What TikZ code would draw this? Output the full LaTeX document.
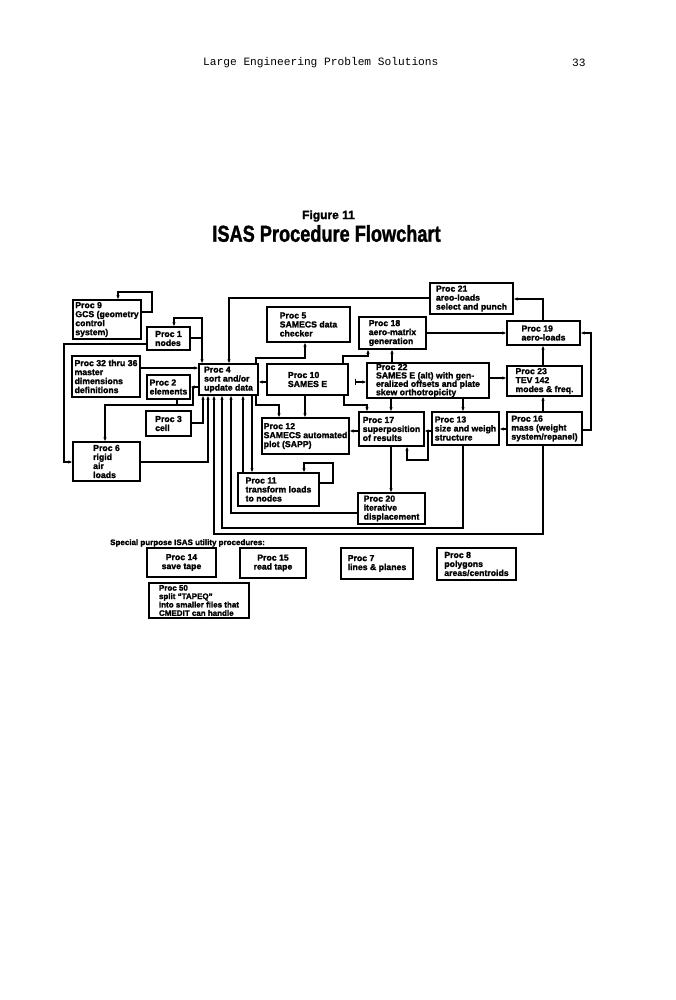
\documentclass[tikz,border=0pt]{standalone}
\usepackage{fontspec}
\setmainfont{Liberation Sans}[BoldFeatures={FakeBold=1.6}]
\newfontfamily\monofam{Liberation Mono}
\usetikzlibrary{arrows.meta}
\begin{document}
\begin{tikzpicture}[x=1pt,y=-1pt,
  bx/.style={draw, line width=1.3pt, inner sep=1.5pt, font=\bfseries\fontsize{8.7}{9}\selectfont, align=left},
  arr/.style={line width=1.1pt, -{Latex[length=4pt,width=3.5pt]}},
  ln/.style={line width=1.1pt}]
\useasboundingbox (0,0) rectangle (675,1000);
\fill[white] (0,0) rectangle (675,1000);

% header and title
\node[anchor=west, font=\monofam\fontsize{11.2}{12}\selectfont, inner sep=0] (hdr) at (203,63) {Large Engineering Problem Solutions};
\node[anchor=west, font=\monofam\fontsize{11.2}{12}\selectfont, inner sep=0] (pg) at (572,63) {33};
\node[font=\bfseries\fontsize{12}{12}\selectfont, inner sep=0] (fig) at (328.5,216) {Figure 11};
\node[inner sep=0] (ttl) at (326.5,233.5) {\scalebox{0.79}[1]{\bfseries\fontsize{23}{23}\selectfont ISAS Procedure Flowchart}};

% boxes
\node[bx, minimum width=68pt, minimum height=39pt] (p9) at (107,319.5) {Proc 9\\GCS (geometry\\control\\system)};
\node[bx, minimum width=43pt, minimum height=23pt] (p1) at (168.5,338.5) {Proc 1\\nodes};
\node[bx, minimum width=68pt, minimum height=41pt] (p32) at (106,376.5) {Proc 32 thru 36\\master\\dimensions\\definitions};
\node[bx, minimum width=43pt, minimum height=24pt] (p2) at (168.5,387) {Proc 2\\elements};
\node[bx, minimum width=45pt, minimum height=25pt] (p3) at (168.5,423.5) {Proc 3\\cell};
\node[bx, minimum width=67pt, minimum height=39pt] (p6) at (106.5,461.5) {Proc 6\\rigid\\air\\loads};
\node[bx, minimum width=59pt, minimum height=31pt] (p4) at (228.5,379.5) {Proc 4\\sort and/or\\update data};
\node[bx, minimum width=83pt, minimum height=35pt] (p5) at (308.5,324.5) {Proc 5\\SAMECS data\\checker};
\node[bx, minimum width=81pt, minimum height=31pt] (p10) at (307.5,379.5) {Proc 10\\SAMES E};
\node[bx, minimum width=87pt, minimum height=36pt, inner sep=1pt] (p12) at (305.5,436) {Proc 12\\SAMECS automated\\plot (SAPP)};
\node[bx, minimum width=81pt, minimum height=33pt] (p11) at (278.5,489.5) {Proc 11\\transform loads\\to nodes};
\node[bx, minimum width=67pt, minimum height=32pt] (p18) at (392.5,333) {Proc 18\\aero-matrix\\generation};
\node[bx, minimum width=122pt, minimum height=35pt, inner sep=1pt, font=\bfseries\fontsize{8.7}{8.4}\selectfont] (p22) at (428,380.5) {Proc 22\\SAMES E (alt) with gen-\\eralized offsets and plate\\skew orthotropicity};
\node[bx, minimum width=65pt, minimum height=34pt] (p17) at (391.5,429) {Proc 17\\superposition\\of results};
\node[bx, minimum width=67pt, minimum height=33pt] (p13) at (465.5,428.5) {Proc 13\\size and weigh\\structure};
\node[bx, minimum width=67pt, minimum height=31pt] (p20) at (391.5,508.5) {Proc 20\\iterative\\displacement};
\node[bx, minimum width=83pt, minimum height=31pt] (p21) at (471.5,298.5) {Proc 21\\areo-loads\\select and punch};
\node[bx, minimum width=73pt, minimum height=24pt] (p19) at (543.5,333) {Proc 19\\aero-loads};
\node[bx, minimum width=75pt, minimum height=30pt] (p23) at (544.5,381) {Proc 23\\TEV 142\\modes \& freq.};
\node[bx, minimum width=75pt, minimum height=33pt] (p16) at (544.5,428.5) {Proc 16\\mass (weight\\system/repanel)};

% utility procedures
\node[anchor=west, inner sep=0, font=\bfseries\fontsize{8}{9}\selectfont] (sp) at (110,543) {Special purpose ISAS utility procedures:};
\node[bx, align=center, minimum width=69pt, minimum height=29pt] (p14) at (181.5,562.5) {Proc 14\\save tape};
\node[bx, align=center, minimum width=66pt, minimum height=30pt] (p15) at (273,563) {Proc 15\\read tape};
\node[bx, minimum width=72pt, minimum height=31pt] (p7) at (377,563.5) {Proc 7\\lines \& planes};
\node[bx, minimum width=79pt, minimum height=32pt] (p8) at (476.5,564) {Proc 8\\polygons\\areas/centroids};
\node[bx, minimum width=100pt, minimum height=35pt, font=\bfseries\fontsize{8}{8.4}\selectfont] (p50) at (199,600.5) {Proc 50\\split ``TAPEQ''\\into smaller files that\\CMEDIT can handle};

% junction coordinates
\coordinate (j1) at (428,431);
\coordinate (j2) at (177,405);
\coordinate (s22) at (355,382);

% connectors
\draw[arr] (p9.east |- 0,312) -| (152,292) -| (p9.north -| 118,0);
\draw[arr] (p1.east |- 0,338) -| (202,318) -| (p1.north -| 174,0);
\draw[arr] (p1.east |- 0,338) -| (p4.north -| 202,0);
\draw[arr] (p1.west |- 0,344) -| (64,462) -- (p6.west |- 0,462);
\draw[arr] (p32.east |- 0,368) -- (p4.west |- 0,368);
\draw[arr] (p4.west |- 0,387) -- (p2.east |- 0,387);
\draw[arr] (p2.south -| 177,0) -- (j2) -| (p6.north -| 105,0);
\draw[ln] (j2) -| (193,387);
\draw[arr] (p3.east |- 0,423) -| (p4.south -| 203,0);
\draw[arr] (p6.east |- 0,462) -| (p4.south -| 208,0);
\draw[arr] (p16.south -| 543,0) |- (214,534) -- (p4.south -| 214,0);
\draw[arr] (p13.south -| 463,0) |- (222,528) -- (p4.south -| 222,0);
\draw[arr] (p20.west |- 0,513) -| (p4.south -| 231,0);
\draw[arr] (p11.north -| 243,0) -- (p4.south -| 243,0);
\draw[arr] (p4.south -| 252,0) -- (p11.north -| 252,0);
\draw[arr] (p11.east |- 0,483) -| (333,463) -| (p11.north -| 304,0);
\draw[arr] (p4.south -| 256,0) |- (279,405) -- (p12.north -| 279,0);
\draw[arr] (p10.west |- 0,382) -- (p4.east |- 0,382);
\draw[arr] (p4.north -| 256,0) |- (305,358) -- (p5.south -| 305,0);
\draw[arr] (p10.south -| 305,0) -- (p12.north -| 305,0);
\draw[arr] (p10.south -| 344,0) |- (367,405) -- (p17.north -| 367,0);
\draw[arr] (p10.north -| 343,0) |- (368,356) -- (p18.south -| 368,0);
\draw[arr] (p17.west |- 0,431) -- (p12.east |- 0,431);
\draw[arr] (p17.south -| 391,0) -- (p20.north -| 391,0);
\draw[arr] (p22.south -| 391,0) -- (p17.north -| 391,0);
\draw[arr] (p22.south -| 463,0) -- (p13.north -| 463,0);
\draw[arr] (p22.north -| 392,0) -- (p18.south -| 392,0);
\draw[arr] (p22.east |- 0,378) -- (p23.west |- 0,378);
\draw[arr] (p13.west |- 0,431) -- (p17.east |- 0,431);
\draw[arr] (j1) |- (407,460) -- (p17.south -| 407,0);
\draw[arr] (p16.west |- 0,429) -- (p13.east |- 0,429);
\draw[arr] (p16.north -| 543,0) -- (p23.south -| 543,0);
\draw[arr] (p16.east |- 0,430) -| (591,333) -- (p19.east |- 0,333);
\draw[arr] (p23.north -| 543,0) -- (p19.south -| 543,0);
\draw[arr] (p18.east |- 0,333) -- (p19.west |- 0,333);
\draw[arr] (p19.north -| 543,0) |- (p21.east |- 0,299);
\draw[arr] (p21.west |- 0,298) -| (p4.north -| 229,0);
\draw[line width=1.1pt, {Bar[width=6pt]}-{Latex[length=4pt,width=3.5pt]}] (s22) -- (p22.west |- 0,382);
\end{tikzpicture}
\end{document}
